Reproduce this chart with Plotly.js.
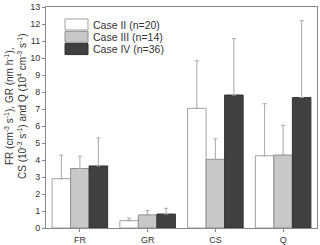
<!DOCTYPE html>
<html><head><meta charset="utf-8">
<script src="https://cdn.plot.ly/plotly-3.0.1.min.js"></script>
<style>html,body{margin:0;padding:0;background:#fff}#c{width:320px;height:245px}</style>
</head><body><div id="c"></div>
<script>
const categories = ["FR", "GR", "CS", "Q"];
const seriesNames = ["Case II (n=20)", "Case III (n=14)", "Case IV (n=36)"];
const caseII = [2.9, 0.43, 7.04, 4.25];
const caseIIErr = [1.38, 0.15, 2.8, 3.06];
const caseIII = [3.5, 0.77, 4.04, 4.29];
const caseIIIErr = [0.72, 0.25, 1.21, 1.75];
const caseIV = [3.65, 0.82, 7.82, 7.67];
const caseIVErr = [1.65, 0.34, 3.32, 4.53];
const yTicks = [0,1,2,3,4,5,6,7,8,9,10,11,12,13];

const fills = ["#ffffff", "#c8c8c8", "#404040"];
const lines = ["#a0a0a0", "#909090", "#303030"];
const vals = [caseII, caseIII, caseIV];
const errs = [caseIIErr, caseIIIErr, caseIVErr];

const data = vals.map((v, i) => ({
  type: "bar", x: categories, y: v, name: seriesNames[i], showlegend: false,
  marker: {color: fills[i], line: {color: lines[i], width: 1}},
  error_y: {type: "data", symmetric: false, array: errs[i], arrayminus: v.map(() => 0),
            color: "#a8a8a8", thickness: 1, width: 2}
}));

// plot area in pixels
const W = 320, H = 245, L = 46, R = 3, T = 7, B = 17;
const pw = W - L - R, ph = H - T - B;
const px = x => (x - L) / pw;
const py = y => (H - B - y) / ph;

// custom legend (box + label), stacked tightly as in the reference
const shapes = [], annotations = [];
seriesNames.forEach((name, i) => {
  const top = 19 + i * 12.3, bot = top + 11;
  shapes.push({type: "rect", xref: "paper", yref: "paper",
    x0: px(65), x1: px(88), y0: py(bot), y1: py(top),
    fillcolor: fills[i], line: {color: lines[i], width: 1}});
  annotations.push({xref: "paper", yref: "paper", x: px(91), y: py((top + bot) / 2),
    xanchor: "left", yanchor: "middle", showarrow: false, text: name,
    font: {size: 10.5, color: "#333"}});
});
annotations.push({xref: "paper", yref: "paper", x: px(16), y: py(106),
  xanchor: "center", yanchor: "middle", showarrow: false, textangle: -90,
  text: "FR (cm<sup>-3</sup> s<sup>-1</sup>), GR (nm h<sup>-1</sup>),<br>CS (10<sup>-3</sup> s<sup>-1</sup>) and Q (10<sup>4</sup> cm<sup>-3</sup> s<sup>-1</sup>)",
  font: {size: 10, color: "#333"}});

const layout = {
  width: W, height: H,
  margin: {l: L, r: R, t: T, b: B},
  paper_bgcolor: "#fff", plot_bgcolor: "#fff",
  font: {family: "Arial, 'Liberation Sans', sans-serif", size: 9, color: "#333"},
  barmode: "group", bargap: 0.18, bargroupgap: 0,
  showlegend: false,
  shapes: shapes, annotations: annotations,
  xaxis: {type: "category", range: [-0.5, 3.5], showline: true, linecolor: "#888", linewidth: 1,
          mirror: true, ticks: "outside", ticklen: 3, tickcolor: "#888", showgrid: false,
          tickfont: {size: 9, color: "#333"}},
  yaxis: {range: [0, 13], tickvals: yTicks, showline: true, linecolor: "#888", linewidth: 1,
          mirror: true, ticks: "outside", ticklen: 3, tickcolor: "#888", showgrid: false, zeroline: false,
          tickfont: {size: 9, color: "#333"}}
};
Plotly.newPlot("c", data, layout, {displayModeBar: false, staticPlot: true});
</script></body></html>
